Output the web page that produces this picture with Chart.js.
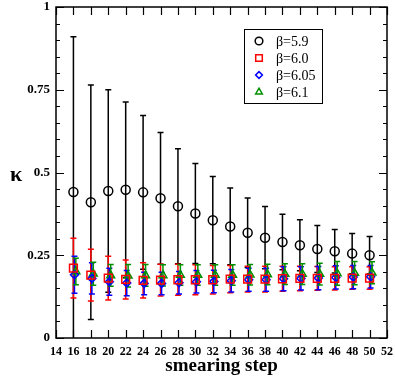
<!DOCTYPE html>
<html>
<head>
<meta charset="utf-8">
<script src="https://cdn.jsdelivr.net/npm/chart.js@4/dist/chart.umd.min.js"></script>
<style>
  html, body { margin: 0; padding: 0; background: #fff; }
  #wrap { width: 395px; height: 376px; }
</style>
</head>
<body>
<div id="wrap"><canvas id="kappaChart" width="395" height="376"></canvas></div>
<script>
// smearing steps
const steps = [16, 18, 20, 22, 24, 26, 28, 30, 32, 34, 36, 38, 40, 42, 44, 46, 48, 50];

// beta = 5.9
const kappa59 = [0.441, 0.41, 0.444, 0.448, 0.44, 0.422, 0.398, 0.376, 0.356, 0.337, 0.318, 0.303, 0.29, 0.28, 0.269, 0.262, 0.255, 0.25];
const err59 = [0.469, 0.354, 0.306, 0.265, 0.232, 0.199, 0.174, 0.151, 0.132, 0.116, 0.105, 0.094, 0.084, 0.077, 0.071, 0.066, 0.061, 0.057];

// beta = 6.0
const kappa60 = [0.211, 0.19, 0.181, 0.177, 0.174, 0.175, 0.176, 0.176, 0.176, 0.178, 0.178, 0.178, 0.179, 0.18, 0.18, 0.18, 0.181, 0.181];
const err60 = [0.09, 0.078, 0.066, 0.059, 0.053, 0.048, 0.047, 0.045, 0.043, 0.041, 0.039, 0.039, 0.038, 0.037, 0.036, 0.035, 0.034, 0.034];

// beta = 6.05
const kappa605 = [0.191, 0.18, 0.17, 0.166, 0.165, 0.165, 0.167, 0.17, 0.171, 0.173, 0.176, 0.176, 0.179, 0.18, 0.181, 0.183, 0.184, 0.185];
const err605 = [0.056, 0.047, 0.041, 0.038, 0.034, 0.034, 0.034, 0.034, 0.034, 0.034, 0.035, 0.035, 0.036, 0.035, 0.035, 0.035, 0.035, 0.034];

// beta = 6.1
const kappa61 = [0.201, 0.194, 0.189, 0.188, 0.189, 0.189, 0.19, 0.19, 0.19, 0.19, 0.191, 0.192, 0.193, 0.193, 0.193, 0.195, 0.196, 0.197];
const err61 = [0.04, 0.035, 0.033, 0.034, 0.033, 0.032, 0.031, 0.031, 0.031, 0.031, 0.031, 0.031, 0.031, 0.031, 0.033, 0.036, 0.035, 0.033];

const seriesLabels = ['β=5.9', 'β=6.0', 'β=6.05', 'β=6.1'];
const xTickLabels = ['14', '16', '18', '20', '22', '24', '26', '28', '30', '32', '34', '36', '38', '40', '42', '44', '46', '48', '50', '52'];
const yTickLabels = ['0', '0.25', '0.5', '0.75', '1'];

const SERIF = "'Liberation Serif', 'DejaVu Serif', serif";

function makeSet(label, vals, errs, color, style, radius, shift) {
    return {
        label: label,
        data: steps.map((s, i) => ({ x: s + shift, y: vals[i] })),
        errors: errs,
        borderColor: color,
        backgroundColor: 'rgba(0,0,0,0)',
        pointStyle: style,
        pointRadius: radius,
        pointBorderWidth: 1.5,
        showLine: false
    };
}

const datasets = [
    makeSet(seriesLabels[0], kappa59, err59, '#000000', 'circle', 4.5, 0),
    makeSet(seriesLabels[1], kappa60, err60, '#ff0000', 'rect', 5.5, 0),
    makeSet(seriesLabels[2], kappa605, err605, '#0000ff', 'rectRot', 4, 0.12),
    makeSet(seriesLabels[3], kappa61, err61, '#009000', 'triangle', 4.5, 0.28)
];

// error bars under the markers
const errorBars = {
    id: 'errorBars',
    beforeDatasetsDraw(chart) {
        const ctx = chart.ctx, a = chart.chartArea;
        const xs = chart.scales.x, ys = chart.scales.y;
        ctx.save();
        ctx.beginPath();
        ctx.rect(a.left, a.top, a.right - a.left, a.bottom - a.top);
        ctx.clip();
        chart.data.datasets.forEach(ds => {
            ctx.strokeStyle = ds.borderColor;
            ctx.lineWidth = 1.5;
            ds.data.forEach((p, i) => {
                const px = xs.getPixelForValue(p.x);
                const top = ys.getPixelForValue(p.y + ds.errors[i]);
                const bot = ys.getPixelForValue(p.y - ds.errors[i]);
                ctx.beginPath();
                ctx.moveTo(px, top); ctx.lineTo(px, bot);
                ctx.moveTo(px - 3, top); ctx.lineTo(px + 3, top);
                ctx.moveTo(px - 3, bot); ctx.lineTo(px + 3, bot);
                ctx.stroke();
            });
        });
        ctx.restore();
    }
};

// frame, inward ticks, legend box, kappa label
const frame = {
    id: 'frame',
    afterDraw(chart) {
        const ctx = chart.ctx, a = chart.chartArea;
        const xs = chart.scales.x, ys = chart.scales.y;
        ctx.save();
        ctx.strokeStyle = '#000';
        ctx.lineWidth = 1.2;
        ctx.beginPath();
        xs.ticks.forEach(t => {
            const px = Math.round(xs.getPixelForValue(t.value)) + 0.5;
            ctx.moveTo(px, a.bottom); ctx.lineTo(px, a.bottom - 8);
            ctx.moveTo(px, a.top); ctx.lineTo(px, a.top + 8);
        });
        for (let v = 0; v <= 1.0001; v += 0.05) {
            const major = Math.abs(v / 0.25 - Math.round(v / 0.25)) < 1e-6;
            const len = major ? 8 : 4;
            const py = Math.round(ys.getPixelForValue(v)) + 0.5;
            ctx.moveTo(a.left, py); ctx.lineTo(a.left + len, py);
            ctx.moveTo(a.right, py); ctx.lineTo(a.right - len, py);
        }
        ctx.stroke();
        ctx.lineWidth = 1.5;
        ctx.strokeRect(a.left, a.top, a.right - a.left, a.bottom - a.top);

        // legend
        ctx.lineWidth = 1;
        ctx.strokeRect(244.5, 29.5, 78, 74);
        ctx.font = '14px ' + SERIF;
        ctx.fillStyle = '#000';
        ctx.textBaseline = 'middle';
        ctx.textAlign = 'left';
        chart.data.datasets.forEach((ds, i) => {
            const ry = 41 + i * 17;
            ctx.strokeStyle = ds.borderColor;
            ctx.fillStyle = 'rgba(0,0,0,0)';
            ctx.lineWidth = 1.5;
            Chart.helpers.drawPoint(ctx, { pointStyle: ds.pointStyle, radius: ds.pointRadius * 0.85, borderWidth: 1.5 }, 259, ry);
            ctx.fillStyle = '#000';
            ctx.fillText(ds.label, 276, ry + 1);
        });

        // y axis title, upright
        ctx.font = 'bold 22px ' + SERIF;
        ctx.textAlign = 'center';
        ctx.fillText('κ', 16, 175);
        ctx.restore();
    }
};

new Chart(document.getElementById('kappaChart'), {
    type: 'scatter',
    data: { datasets: datasets },
    options: {
        responsive: false,
        animation: false,
        events: [],
        layout: { padding: { top: 6, right: 8, left: 0, bottom: 0 } },
        plugins: {
            legend: { display: false },
            tooltip: { enabled: false }
        },
        scales: {
            x: {
                type: 'linear',
                min: 14,
                max: 52,
                grid: { display: false, drawTicks: false },
                border: { display: false },
                afterFit: s => { s.height = 38; s.paddingLeft = 0; s.paddingRight = 0; },
                ticks: {
                    stepSize: 2,
                    autoSkip: false,
                    maxRotation: 0,
                    padding: 7,
                    color: '#000',
                    font: { family: SERIF, size: 12, weight: 'bold' },
                    callback: (v, i) => xTickLabels[i]
                },
                title: {
                    display: true,
                    text: 'smearing step',
                    color: '#000',
                    padding: 0,
                    font: { family: SERIF, size: 19, weight: 'bold', lineHeight: 1 }
                }
            },
            y: {
                min: 0,
                max: 1,
                grid: { display: false, drawTicks: false },
                border: { display: false },
                afterFit: s => { s.width = 56; s.paddingTop = 0; s.paddingBottom = 0; },
                ticks: {
                    stepSize: 0.25,
                    padding: 6,
                    color: '#000',
                    font: { family: SERIF, size: 13, weight: 'bold' },
                    callback: (v, i) => yTickLabels[i]
                }
            }
        }
    },
    plugins: [errorBars, frame]
});
</script>
</body>
</html>
